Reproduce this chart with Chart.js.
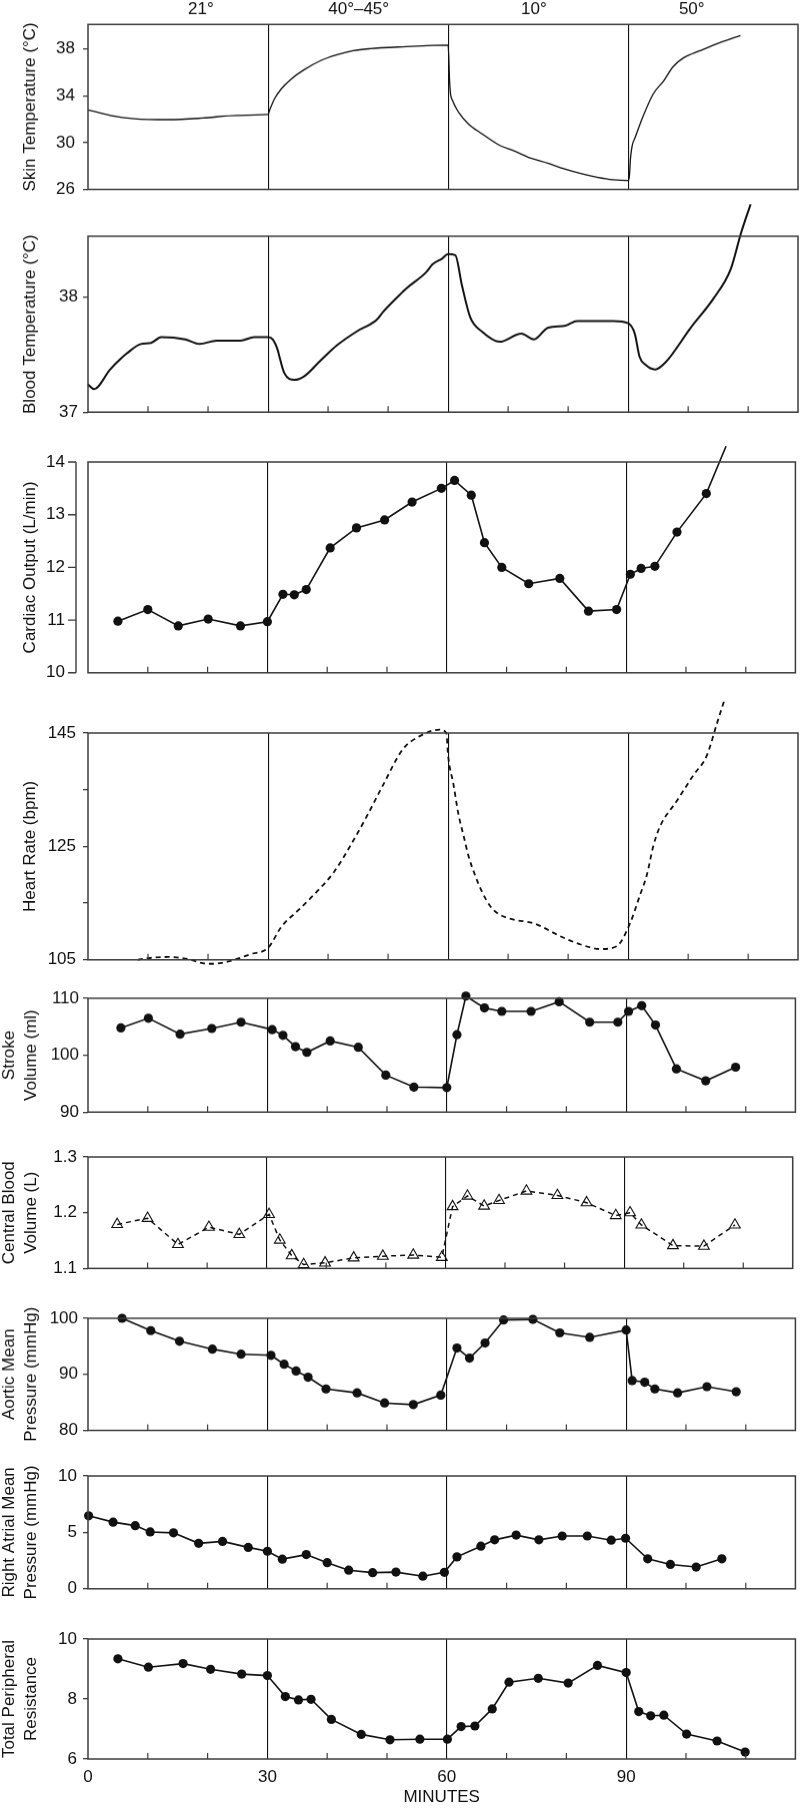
<!DOCTYPE html>
<html>
<head>
<meta charset="utf-8">
<script src="https://cdn.jsdelivr.net/npm/chart.js@4.4.1/dist/chart.umd.min.js"></script>
<style>
  html, body { margin: 0; padding: 0; background: #fff; }
  #wrap { position: relative; width: 800px; height: 1808px; overflow: hidden; background: #fff; }
  .panel { position: absolute; left: 0; width: 800px; }
</style>
</head>
<body>
<div id="wrap"></div>
<script>
// ---- axes / labels ----
const X_MAX = 118.3;
const xTickValues = [0, 10, 20, 30, 40, 50, 60, 70, 80, 90, 100, 110];
const majorMinutes = [30, 60, 90];
const minorMinutes = [10, 20, 40, 50, 70, 80, 100, 110];
const bottomTickLabels = [0, 30, 60, 90];
const phaseLabels = ['21°', '40°–45°', '10°', '50°'];
const phaseCenters = [18.8, 45.1, 74.3, 100.6];

// ---- skin temperature (°C), continuous trace ----
const skinMin = [0, 3.7, 7.7, 13.4, 19.1, 24.8, 30, 30.3, 31.1, 32.2, 33.8, 36.0, 38.7, 41.5, 44.2, 47.0, 52.4,
  60, 60.25, 60.4, 60.7, 61.8, 63.4, 65.6, 68.4, 71.1, 73.8, 76.6, 79.3, 82.1, 84.8, 87.5, 90,
  90.2, 90.4, 90.7, 91.1, 92.5, 94.2, 95.9, 97.5, 99.2, 102, 105.3, 108.7];
const skinVal = [32.8, 32.33, 32.05, 31.97, 32.1, 32.33, 32.4, 32.82, 33.77, 34.59, 35.41, 36.23, 36.99, 37.51, 37.86, 38.03, 38.19,
  38.33, 35.27, 34.18, 33.64, 32.55, 31.59, 30.77, 29.82, 29.27, 28.67, 28.24, 27.77, 27.36, 27.04, 26.82, 26.76,
  27.09, 28.73, 29.82, 30.36, 32.27, 34.18, 35.27, 36.5, 37.24, 37.86, 38.55, 39.15];

// ---- blood temperature (°C) ----
const bloodMin = [0, 1.0, 3.7, 5.4, 6.5, 8.8, 10.5, 12.2, 16.2, 18.6, 21.4, 25.4, 27.7, 30, 30.8, 31.6, 31.9, 32.7,
  34.4, 36.0, 38.8, 41.5, 44.8, 48.1, 49.2, 52.4, 53.0, 56.3, 57.4, 59.0, 60, 61.2, 62.3, 63.7, 65.6, 68.6,
  72.2, 74.3, 76.6, 79.6, 81.5, 87.5, 90, 91.1, 91.9, 92.9, 94.5, 96.2, 100.4, 104.3, 107.1, 108.8, 110.4];
const bloodVal = [37.24, 37.2, 37.37, 37.46, 37.51, 37.59, 37.6, 37.65, 37.63, 37.59, 37.62, 37.62, 37.65, 37.65, 37.63, 37.54, 37.48, 37.34,
  37.28, 37.31, 37.45, 37.58, 37.7, 37.8, 37.87, 38.04, 38.07, 38.21, 38.28, 38.33, 38.37, 38.36, 38.1, 37.82, 37.7, 37.61,
  37.68, 37.63, 37.73, 37.75, 37.79, 37.79, 37.77, 37.68, 37.48, 37.41, 37.37, 37.43, 37.73, 37.99, 38.24, 38.55, 38.8];

// ---- cardiac output (L/min) ----
const coMin = [5.0, 10.0, 15.1, 20.1, 25.5, 30, 32.6, 34.5, 36.5, 40.5, 44.9, 49.6, 54.2, 59.1, 61.3, 64.1, 66.3, 69.2,
  73.7, 78.9, 83.7, 88.4, 90.7, 92.5, 94.8, 98.5, 103.4, 106.7];
const coVal = [10.98, 11.2, 10.89, 11.02, 10.89, 10.97, 11.49, 11.48, 11.58, 12.37, 12.75, 12.9, 13.24, 13.5, 13.65, 13.37, 12.47, 12.0,
  11.69, 11.79, 11.17, 11.2, 11.87, 11.98, 12.02, 12.67, 13.4, 14.3];

// ---- heart rate (bpm), dashed trace ----
const hrMin = [8.3, 10.0, 13.4, 16.8, 19.1, 20.8, 23.7, 27.1, 30, 32.2, 35, 38.2, 41, 43.7, 46.4, 49.2, 52.5, 55.2, 58.6, 59.7,
  60.0, 60.9, 61.7, 62.6, 63.4, 64.5, 65.6, 67, 68.4, 70.5, 74.4, 78.8, 82.1, 85.4, 88.1, 90.3, 92.0, 93.1, 94.2, 95.3,
  98.1, 100.9, 103.1, 104.8, 106.0];
const hrVal = [105.0, 105.3, 105.5, 105.1, 104.4, 104.3, 104.8, 106, 107.1, 110.8, 113.7, 117.1, 120.5, 125.1, 130.2, 135.9, 142.2, 144.4, 145.6, 145,
  141, 135.9, 130.8, 126.8, 123.3, 119.9, 117.1, 114.5, 113.1, 112.2, 111.4, 109.1, 107.7, 106.9, 107.4, 111.4, 116.5, 119.9, 125.1, 128.5,
  133, 137.6, 141, 146.7, 150.7];

// ---- stroke volume (ml) ----
const svMin = [5.5, 10.1, 15.4, 20.7, 25.6, 30.8, 32.6, 34.7, 36.6, 40.5, 45.2, 49.8, 54.5, 60, 61.7, 63.2, 66.3, 69.2,
  74.1, 78.8, 83.9, 88.6, 90.4, 92.6, 94.9, 98.4, 103.3, 108.3];
const svVal = [104.8, 106.5, 103.7, 104.7, 105.8, 104.5, 103.5, 101.5, 100.5, 102.5, 101.4, 96.5, 94.4, 94.3, 103.6, 110.4, 108.3, 107.7,
  107.7, 109.4, 105.8, 105.8, 107.7, 108.7, 105.3, 97.6, 95.5, 97.9];

// ---- central blood volume (L) ----
const cbvMin = [4.9, 10.0, 15.1, 20.3, 25.4, 30.4, 32.2, 34.2, 36.2, 39.8, 44.6, 49.5, 54.6, 59.4, 61.2, 63.7, 66.5, 69.0,
  73.6, 78.8, 83.7, 88.6, 91.0, 92.9, 98.2, 103.4, 108.6];
const cbvVal = [1.179, 1.19, 1.143, 1.174, 1.161, 1.197, 1.151, 1.123, 1.107, 1.11, 1.119, 1.122, 1.124, 1.12, 1.211, 1.23, 1.212, 1.222,
  1.239, 1.231, 1.218, 1.195, 1.2, 1.178, 1.141, 1.14, 1.178];

// ---- aortic mean pressure (mmHg) ----
const aoMin = [5.7, 10.5, 15.3, 20.8, 25.6, 30.6, 32.8, 34.8, 36.8, 39.8, 45.0, 49.6, 54.4, 59.0, 61.7, 63.8, 66.4, 69.5,
  74.4, 78.9, 83.9, 90, 91.0, 93.1, 94.8, 98.6, 103.5, 108.4];
const aoVal = [100, 97.8, 95.9, 94.5, 93.6, 93.4, 91.8, 90.6, 89.5, 87.4, 86.7, 84.9, 84.6, 86.3, 94.7, 92.9, 95.6, 99.7,
  99.8, 97.4, 96.6, 97.9, 88.9, 88.6, 87.4, 86.7, 87.8, 86.9];

// ---- right atrial mean pressure (mmHg) ----
const rapMin = [0.1, 4.2, 7.9, 10.4, 14.3, 18.5, 22.5, 26.8, 30, 32.5, 36.5, 40.0, 43.6, 47.6, 51.5, 56.0, 59.6, 61.7,
  65.7, 68.0, 71.6, 75.4, 79.3, 83.5, 87.5, 89.9, 93.6, 97.4, 101.7, 106.0];
const rapVal = [6.47, 5.91, 5.60, 5.04, 4.96, 4.03, 4.20, 3.67, 3.33, 2.63, 3.03, 2.32, 1.65, 1.43, 1.48, 1.12, 1.46, 2.83,
  3.78, 4.34, 4.76, 4.34, 4.68, 4.68, 4.31, 4.48, 2.66, 2.16, 1.93, 2.66];

// ---- total peripheral resistance ----
const tprMin = [5.0, 10.1, 15.9, 20.5, 25.7, 30, 33.0, 35.2, 37.3, 40.7, 45.7, 50.5, 55.5, 60.1, 62.4, 64.7, 67.6, 70.4,
  75.3, 80.3, 85.2, 90, 92.1, 94.1, 96.3, 100.1, 105.2, 109.9];
const tprVal = [9.34, 9.06, 9.18, 8.99, 8.83, 8.78, 8.08, 7.97, 7.99, 7.32, 6.82, 6.64, 6.66, 6.66, 7.08, 7.1, 7.67, 8.56,
  8.69, 8.53, 9.12, 8.88, 7.58, 7.44, 7.46, 6.83, 6.6, 6.23];

const FONT = '"Liberation Sans", Arial, Helvetica, sans-serif';
const INK = '#111';
const FRAME = '#3c3c3c';

const pts = (xs, ys) => xs.map((x, i) => ({ x: x, y: ys[i] }));

function trace(xs, ys, width, dash) {
  return {
    data: pts(xs, ys), borderColor: INK, borderWidth: width, borderDash: dash || [],
    pointRadius: 0, cubicInterpolationMode: 'monotone', fill: false, clip: false
  };
}
function dots(xs, ys) {
  return {
    data: pts(xs, ys), borderColor: INK, borderWidth: 1.6, tension: 0,
    pointRadius: 4.6, pointBackgroundColor: INK, pointBorderWidth: 0, fill: false, clip: false
  };
}
function triangles(xs, ys) {
  return {
    data: pts(xs, ys), borderColor: INK, borderWidth: 1.5, borderDash: [5, 4], tension: 0,
    pointStyle: 'triangle', pointRadius: 6.2, pointBackgroundColor: 'rgba(255,255,255,0)',
    pointBorderColor: INK, pointBorderWidth: 1.1, fill: false, clip: false
  };
}

// box, inward minor ticks, offset y axis, temperature labels
const framePlugin = {
  id: 'frame',
  afterDatasetsDraw(chart, args, opts) {
    const { ctx, chartArea: a, scales: { x, y } } = chart;
    ctx.save();
    ctx.strokeStyle = FRAME;
    ctx.lineWidth = 1.5;
    ctx.strokeRect(a.left, a.top, a.right - a.left, a.bottom - a.top);
    if (opts.minor) {
      ctx.lineWidth = 1.2;
      ctx.beginPath();
      minorMinutes.forEach(m => {
        const px = x.getPixelForValue(m);
        ctx.moveTo(px, a.bottom);
        ctx.lineTo(px, a.bottom - 6);
      });
      ctx.stroke();
    }
    if (opts.offsetAxis) {
      const ax = a.left - 12;
      ctx.lineWidth = 1.4;
      ctx.beginPath();
      ctx.moveTo(ax, a.top);
      ctx.lineTo(ax, a.bottom);
      y.ticks.forEach(t => {
        const py = y.getPixelForValue(t.value);
        ctx.moveTo(ax - 8, py);
        ctx.lineTo(ax, py);
      });
      ctx.stroke();
    }
    if (opts.phases) {
      ctx.fillStyle = INK;
      ctx.font = '17px ' + FONT;
      ctx.textAlign = 'center';
      ctx.textBaseline = 'middle';
      phaseLabels.forEach((t, i) => ctx.fillText(t, x.getPixelForValue(phaseCenters[i]), 9));
    }
    ctx.restore();
  }
};

function makePanel(p) {
  const isBottom = !!p.xAxis;
  const padT = Math.min(45, p.top);
  const padB = isBottom ? 0 : 10;
  const boxTop = p.top - padT;
  const boxH = isBottom ? 1808 - boxTop : (p.bottom - p.top) + padT + padB;
  const div = document.createElement('div');
  div.className = 'panel';
  div.style.top = boxTop + 'px';
  div.style.height = boxH + 'px';
  const cv = document.createElement('canvas');
  div.appendChild(cv);
  document.getElementById('wrap').appendChild(div);
  const twoLine = Array.isArray(p.title);
  const fmt = p.fmt || (v => String(v));

  new Chart(cv, {
    type: 'line',
    data: { datasets: p.datasets },
    plugins: [framePlugin],
    options: {
      responsive: true,
      maintainAspectRatio: false,
      animation: false,
      events: [],
      layout: { padding: { top: padT, bottom: padB, left: 0, right: 2 } },
      plugins: {
        legend: { display: false },
        tooltip: { enabled: false },
        frame: { minor: p.minor, offsetAxis: p.offsetAxis, phases: p.phases }
      },
      scales: {
        x: {
          type: 'linear', min: 0, max: X_MAX,
          afterBuildTicks: s => { s.ticks = xTickValues.map(v => ({ value: v })); },
          afterFit: s => { s.height = isBottom ? 49 : 0; },
          grid: {
            drawTicks: false, lineWidth: 1.1,
            color: c => (c.tick && majorMinutes.includes(c.tick.value)) ? INK : 'rgba(0,0,0,0)'
          },
          border: { display: false },
          ticks: {
            display: isBottom, autoSkip: false, maxRotation: 0, padding: 8, color: INK,
            font: { family: FONT, size: 17 },
            callback: v => bottomTickLabels.includes(v) ? String(v) : ''
          },
          title: {
            display: isBottom, text: 'MINUTES', color: INK,
            font: { family: FONT, size: 17 }, padding: { top: 0, bottom: 0 }
          }
        },
        y: {
          type: 'linear', min: p.yMin, max: p.yMax,
          afterBuildTicks: s => { s.ticks = p.yTicks.map(v => ({ value: v })); },
          afterFit: s => { s.width = 88; },
          grid: p.offsetAxis
            ? { display: false, drawTicks: false, tickLength: 0 }
            : { drawOnChartArea: false, drawTicks: true, tickLength: 5, color: FRAME, lineWidth: 1.3 },
          border: { display: false },
          ticks: {
            autoSkip: false, padding: p.labelPad, color: INK,
            font: { family: FONT, size: 17 },
            callback: v => p.yLabels.includes(v) ? fmt(v) : ''
          },
          title: {
            display: true, text: p.title, color: INK,
            font: { family: FONT, size: 17, lineHeight: twoLine ? 22 / 17 : 1.2 },
            padding: { top: twoLine ? -2 : 19.8, bottom: 0 }
          }
        }
      }
    }
  });
}

makePanel({ top: 24.3, bottom: 196.7, yMin: 26, yMax: 40.1, yTicks: [26, 30, 34, 38], yLabels: [26, 30, 34, 38],
  title: 'Skin Temperature (°C)', labelPad: 8, minor: false, phases: true,
  datasets: [trace(skinMin, skinVal, 1.3)] });

makePanel({ top: 236.3, bottom: 416.7, yMin: 37, yMax: 38.524, yTicks: [37, 38], yLabels: [37, 38],
  title: 'Blood Temperature (°C)', labelPad: 5, minor: true,
  datasets: [trace(bloodMin, bloodVal, 2)] });

makePanel({ top: 462, bottom: 696, yMin: 10, yMax: 14, yTicks: [10, 11, 12, 13, 14], yLabels: [10, 11, 12, 13, 14],
  title: 'Cardiac Output (L/min)', labelPad: 23, minor: true, offsetAxis: true,
  datasets: [dots(coMin, coVal)] });

makePanel({ top: 733.3, bottom: 967.3, yMin: 105, yMax: 145, yTicks: [105, 115, 125, 135, 145], yLabels: [105, 125, 145],
  title: 'Heart Rate (bpm)', labelPad: 7, minor: true,
  datasets: [trace(hrMin, hrVal, 1.8, [5, 4])] });

makePanel({ top: 998.3, bottom: 1115.7, yMin: 90, yMax: 110, yTicks: [90, 100, 110], yLabels: [90, 100, 110],
  title: ['Stroke', 'Volume (ml)'], labelPad: 4, minor: true,
  datasets: [dots(svMin, svVal)] });

makePanel({ top: 1156.7, bottom: 1274.3, yMin: 1.1, yMax: 1.3, yTicks: [1.1, 1.2, 1.3], yLabels: [1.1, 1.2, 1.3],
  title: ['Central Blood', 'Volume (L)'], labelPad: 6, minor: true, fmt: v => v.toFixed(1),
  datasets: [triangles(cbvMin, cbvVal)] });

makePanel({ top: 1318.3, bottom: 1435, yMin: 80, yMax: 100, yTicks: [80, 90, 100], yLabels: [80, 90, 100],
  title: ['Aortic Mean', 'Pressure (mmHg)'], labelPad: 5, minor: true,
  datasets: [dots(aoMin, aoVal)] });

makePanel({ top: 1476, bottom: 1595, yMin: 0, yMax: 10, yTicks: [0, 5, 10], yLabels: [0, 5, 10],
  title: ['Right Atrial Mean', 'Pressure (mmHg)'], labelPad: 6, minor: true,
  datasets: [dots(rapMin, rapVal)] });

makePanel({ top: 1639, bottom: 1759, yMin: 6, yMax: 10, yTicks: [6, 8, 10], yLabels: [6, 8, 10],
  title: ['Total Peripheral', 'Resistance'], labelPad: 6, minor: true, xAxis: true,
  datasets: [dots(tprMin, tprVal)] });
</script>
</body>
</html>
